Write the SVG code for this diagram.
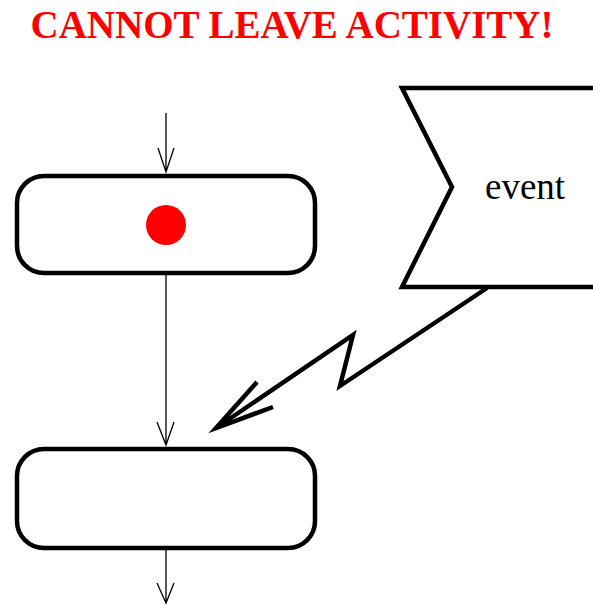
<svg xmlns="http://www.w3.org/2000/svg" width="593" height="605" viewBox="0 0 593 605">
<style>
.box{fill:#fff;stroke:#000;stroke-width:4.5}
.flow{fill:none;stroke:#000;stroke-width:1.3}
.bolt{fill:none;stroke:#000;stroke-width:4.5;stroke-linejoin:miter;stroke-miterlimit:20}
.title{font-family:"Liberation Serif","Times New Roman",serif;font-weight:bold;font-size:39px;fill:#ff0000}
.lbl{font-family:"Liberation Serif","Times New Roman",serif;font-size:37px;fill:#000}
</style>
<rect width="593" height="605" fill="#fff"/>
<text class="title" x="292" y="38" text-anchor="middle">CANNOT LEAVE ACTIVITY!</text>
<g id="connectors">
<path class="flow" d="M166,113 V172 M158,148 L166,172 L174,148"/>
<path class="flow" d="M166,275 V445 M157,422 L166,445 L174,422"/>
<path class="flow" d="M166,550 V603 M157,583 L166,603 L174,583"/>
<path class="bolt" d="M487,288 L340,386 L353,335 L216,428"/>
<path class="bolt" d="M257,382 L216,428 L273,407"/>
</g>
<g id="activity1">
<rect class="box" x="17" y="176" width="298" height="97" rx="27"/>
<circle cx="166" cy="225" r="20" fill="#ff0000"/>
</g>
<g id="activity2">
<rect class="box" x="17" y="449" width="298" height="99" rx="27"/>
</g>
<g id="event">
<polygon class="box" points="402,88 600,88 600,287 402,287 452,187"/>
<text class="lbl" x="485" y="199">event</text>
</g>
</svg>
